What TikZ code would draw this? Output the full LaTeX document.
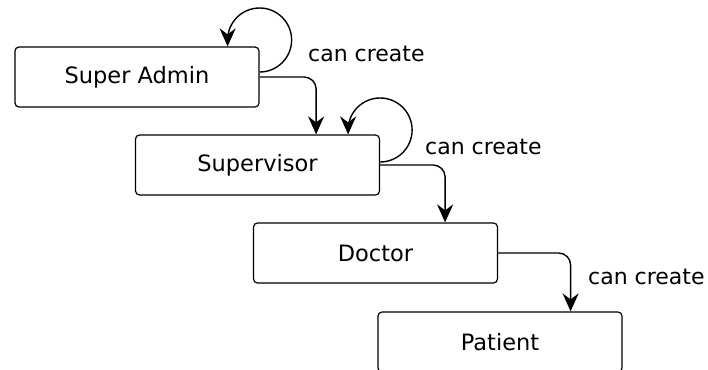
\documentclass[tikz,border=0pt]{standalone}
\usepackage{fontspec}
\setmainfont{DejaVu Sans}
\usetikzlibrary{arrows.meta, positioning}

\begin{document}
\begin{tikzpicture}[
        x=1pt, y=1pt,
        role/.style={rectangle, draw, rounded corners=4pt, line width=1.2pt, minimum width=244pt, minimum height=60pt, font=\fontsize{22.5}{26}\selectfont},
        creates/.style={-{Stealth[length=18pt, width=16pt, inset=6pt]}, line width=1.4pt},
        note/.style={inner sep=0pt, anchor=west, font=\fontsize{22}{26}\selectfont}
    ]
        \useasboundingbox (0,0) rectangle (708,-369);

        \node[role] (admin) at (137,-77) {Super Admin};
        \node[role] (supervisor) at (257.5,-165) {Supervisor};
        \node[role] (doctor) at (375.5,-253) {Doctor};
        \node[role] (patient) at (500,-342) {Patient};

        % self loops
        \draw[creates] ([yshift=5pt]admin.east) arc[start angle=-90, end angle=180, radius=32pt] -- ([xshift=-32pt]admin.north east);
        \draw[creates] ([yshift=3pt]supervisor.east) arc[start angle=-90, end angle=180, radius=32pt] -- ([xshift=-32pt]supervisor.north east);

        % can create
        \draw[creates, rounded corners=12pt] (admin.east) -| ([xshift=-64pt]supervisor.north east);
        \draw[creates, rounded corners=12pt] (supervisor.east) -| ([xshift=-53pt]doctor.north east);
        \draw[creates, rounded corners=12pt] (doctor.east) -| ([xshift=-52pt]patient.north east);

        \node[note] (create1) at (308,-54) {can create};
        \node[note] (create2) at (425,-147) {can create};
        \node[note] (create3) at (588,-277) {can create};

    \end{tikzpicture}
\end{document}
